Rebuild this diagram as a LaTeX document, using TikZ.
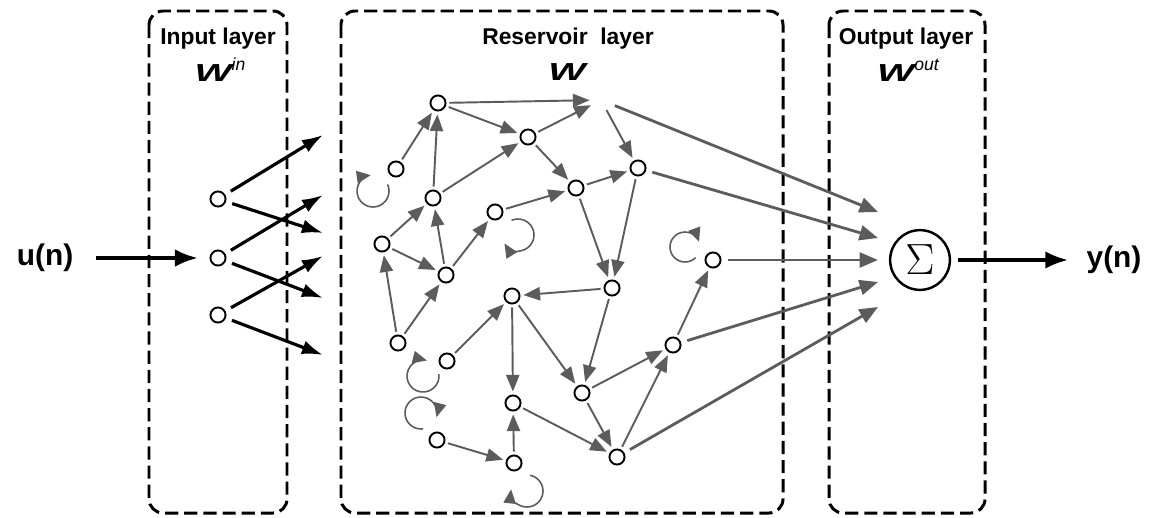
\documentclass[tikz,border=0pt]{standalone}
\usepackage{fontspec}
\setmainfont{Liberation Sans}
\usepackage{graphicx}
\usetikzlibrary{arrows.meta}
\definecolor{garr}{gray}{0.36}
\newcommand{\Wbig}{\scalebox{1.6}[1]{\fontsize{14}{16}\selectfont\bfseries\itshape W}}
\newcommand{\Wlab}[1]{\Wbig\raisebox{1.2ex}{\fontsize{10}{10}\selectfont\itshape #1}}
\begin{document}
\begin{tikzpicture}[x=0.02cm,y=0.02cm,
  nd/.style={circle,draw,line width=1.1pt,minimum size=8.6pt,inner sep=0pt,outer sep=2.2pt},
  hid/.style={circle,minimum size=8.6pt,inner sep=0pt,outer sep=2.2pt},
  ga/.style={garr,line width=1.1pt,-{Triangle[length=9.5pt,width=7.5pt]}},
  gl/.style={garr,line width=0.9pt,-{Triangle[length=8pt,width=7pt]}},
  go/.style={garr,line width=1.6pt,-{Triangle[length=10.5pt,width=8.5pt]},shorten <=2pt},
  ba/.style={black,line width=1.8pt,-{Latex[length=12pt,width=8pt]},shorten <=2pt},
  bb/.style={black,line width=2pt,-{Latex[length=13pt,width=10pt]}},
  layerbox/.style={draw,line width=1.7pt,dash pattern=on 7.5pt off 3.4pt,rounded corners=8pt},
  ttl/.style={font=\bfseries\fontsize{13}{15}\selectfont,anchor=base,inner sep=0pt},
  wl/.style={inner sep=0pt}
]
\useasboundingbox (0,0) rectangle (1162,-517);

% layer boxes
\draw[layerbox] (149,-11) rectangle (287,-513);
\draw[layerbox] (341,-11) rectangle (783,-513);
\draw[layerbox] (829,-11) rectangle (985,-513);

% titles
\node[ttl] (tin) at (218,-45) {Input layer};
\node[ttl] (tres) at (568,-45) {Reservoir\ \ layer};
\node[ttl] (tout) at (906,-45) {Output layer};
\node[wl] (win) at (220,-70) {\Wlab{in}};
\node[wl] (wres) at (567,-72) {\Wbig};
\node[wl] (wout) at (908,-70) {\Wlab{out}};

% input / output labels
\node[font=\bfseries\fontsize{17}{20}\selectfont] (u) at (45,-258) {u(n)};
\node[font=\bfseries\fontsize{17}{20}\selectfont] (y) at (1114,-260) {y(n)};

% input nodes
\node[nd] (i1) at (218,-199) {};
\node[nd] (i2) at (218,-258) {};
\node[nd] (i3) at (218,-315) {};

% input arrow tips
\coordinate (a1) at (323,-135);
\coordinate (a2) at (323,-233);
\coordinate (a3) at (323,-195);
\coordinate (a4) at (323,-298);
\coordinate (a5) at (323,-256);
\coordinate (a6) at (323,-355);

% reservoir nodes
\node[nd] (A) at (438,-103) {};
\node[nd] (B) at (528,-137) {};
\node[nd] (C) at (396,-169) {};
\node[nd] (D) at (433,-198) {};
\node[nd] (E) at (495,-212) {};
\node[nd] (F) at (382,-244) {};
\node[nd] (G) at (446,-275) {};
\node[hid] (X) at (601,-100) {};
\node[nd] (H) at (576,-188) {};
\node[nd] (I) at (638,-168) {};
\node[nd] (J) at (713,-260) {};
\node[nd] (K) at (398,-343) {};
\node[nd] (L) at (447,-361) {};
\node[nd] (M) at (512,-296) {};
\node[nd] (N) at (513,-403) {};
\node[nd] (O) at (437,-440) {};
\node[nd] (P) at (514,-463) {};
\node[nd] (Q) at (612,-288) {};
\node[nd] (R) at (582,-393) {};
\node[nd] (S) at (673,-345) {};
\node[nd] (T) at (617,-457) {};

% summation node
\node[circle,draw,line width=1.4pt,minimum size=34pt,inner sep=0pt] (sum) at (920,-260) {\fontsize{24}{24}\selectfont$\Sigma$};

% output arrow tips
\coordinate (o1) at (878,-212);
\coordinate (o2) at (878,-238);
\coordinate (o3) at (878,-260);
\coordinate (o4) at (878,-282);
\coordinate (o5) at (878,-307);

% main flow
\draw[bb,shorten <=9.6pt,shorten >=5pt] (u) -- (i2);
\draw[bb,shorten <=4pt,shorten >=7pt] (sum) -- (y);

% input weights
\draw[ba] (i1) -- (a1);
\draw[ba] (i1) -- (a2);
\draw[ba] (i2) -- (a3);
\draw[ba] (i2) -- (a4);
\draw[ba] (i3) -- (a5);
\draw[ba] (i3) -- (a6);

% reservoir connections
\foreach \s/\t in {A/X, A/B, B/X, C/A, D/A, D/B, F/D, F/G, G/D, G/E, E/H, B/H, H/I, X/I,
                   K/F, K/G, L/M, H/Q, I/Q, Q/M, Q/R, M/N, M/R, N/T, O/P, P/N, R/T, R/S, T/S, S/J}
  \draw[ga] (\s) -- (\t);

% self loops
\draw[gl] ([shift={(-23,-22)}]C.center) ++(24:16) arc[start angle=24, end angle=-262, radius=16];
\draw[gl] ([shift={(23,-23)}]E.center) ++(114:16) arc[start angle=114, end angle=-148, radius=16];
\draw[gl] ([shift={(-28,13)}]J.center) ++(-45:15) arc[start angle=-45, end angle=-340, radius=15];
\draw[gl] ([shift={(-24,-15)}]L.center) ++(7:16) arc[start angle=7, end angle=-284, radius=16];
\draw[gl] ([shift={(-16,27)}]O.center) ++(-82:16) arc[start angle=-82, end angle=-375, radius=16];
\draw[gl] ([shift={(13,-28)}]P.center) ++(79:16) arc[start angle=79, end angle=-186, radius=16];

% output weights
\draw[go] (X) -- (o1);
\draw[go] (I) -- (o2);
\draw[go] (J) -- (o3);
\draw[go] (S) -- (o4);
\draw[go] (T) -- (o5);
\end{tikzpicture}
\end{document}
